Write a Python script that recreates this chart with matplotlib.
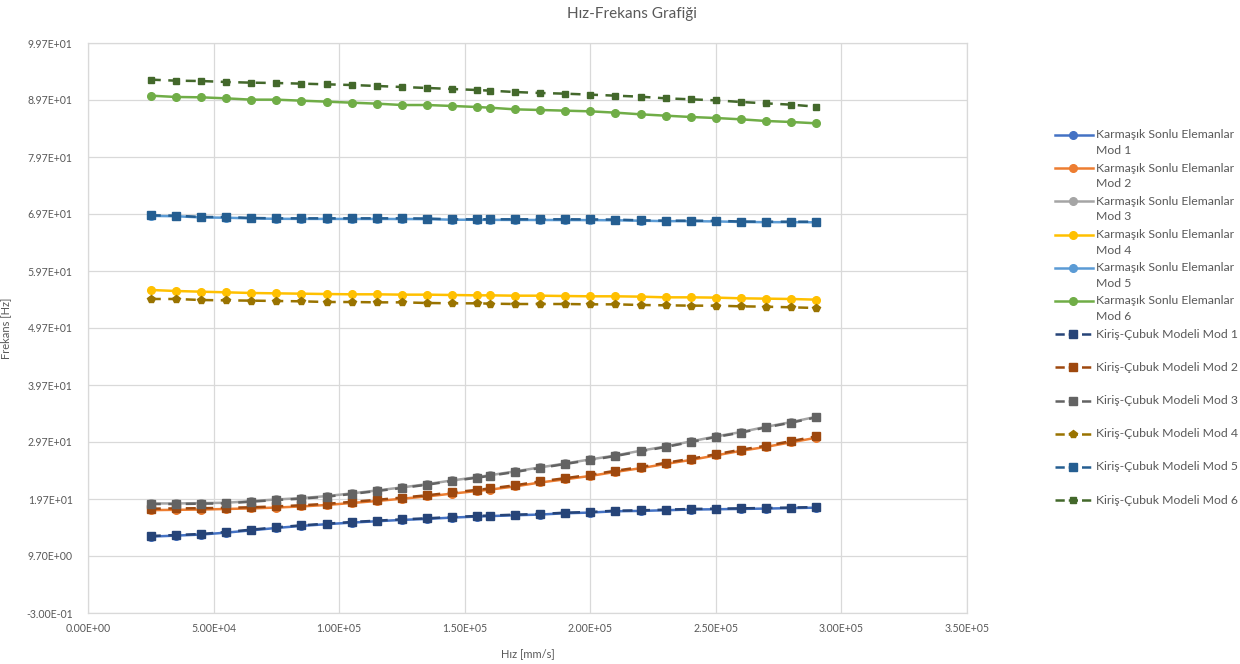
import matplotlib.pyplot as plt
from matplotlib.lines import Line2D
from matplotlib.ticker import FuncFormatter
import numpy as np

plt.rcParams['font.family'] = ['Lato', 'DejaVu Sans']

# Hız [mm/s]
hiz = [25000, 35000, 45000, 55000, 65000, 75000, 85000, 95000, 105000, 115000,
       125000, 135000, 145000, 155000, 160000, 170000, 180000, 190000, 200000,
       210000, 220000, 230000, 240000, 250000, 260000, 270000, 280000, 290000]

# Karmaşık Sonlu Elemanlar
kse_mod1 = [13.10, 13.28, 13.46, 13.80, 14.20, 14.62, 14.98, 15.28, 15.56, 15.80, 16.03, 16.21, 16.44, 16.62,
            16.70, 16.85, 16.97, 17.20, 17.32, 17.55, 17.61, 17.73, 17.85, 17.90, 17.96, 18.02, 18.10, 18.18]
kse_mod2 = [17.75, 17.80, 17.85, 17.95, 18.05, 18.20, 18.40, 18.65, 19.00, 19.35, 19.75, 20.15, 20.65, 21.10,
            21.35, 21.90, 22.60, 23.15, 23.75, 24.45, 25.10, 25.85, 26.55, 27.35, 28.15, 28.85, 29.65, 30.45]
kse_mod3 = [18.92, 18.92, 18.98, 19.04, 19.33, 19.62, 19.86, 20.21, 20.68, 21.20, 21.73, 22.31, 22.96, 23.54,
            23.87, 24.54, 25.24, 25.94, 26.64, 27.34, 28.16, 28.92, 29.80, 30.68, 31.44, 32.37, 33.19, 34.13]
kse_mod4 = [56.37, 56.19, 56.07, 55.96, 55.84, 55.78, 55.72, 55.66, 55.61, 55.61, 55.55, 55.55, 55.49, 55.43,
            55.43, 55.37, 55.37, 55.31, 55.26, 55.26, 55.20, 55.08, 55.08, 55.03, 54.91, 54.85, 54.79, 54.67]
kse_mod5 = [69.37, 69.31, 69.10, 69.05, 68.92, 68.86, 68.84, 68.84, 68.83, 68.83, 68.82, 68.80, 68.70, 68.68,
            68.67, 68.66, 68.65, 68.64, 68.63, 68.60, 68.52, 68.45, 68.43, 68.40, 68.30, 68.27, 68.26, 68.25]
kse_mod6 = [90.46, 90.23, 90.17, 89.99, 89.76, 89.76, 89.58, 89.41, 89.23, 89.06, 88.82, 88.82, 88.65, 88.47,
            88.35, 88.06, 87.95, 87.83, 87.71, 87.48, 87.19, 86.95, 86.72, 86.54, 86.31, 86.02, 85.84, 85.61]

# Kiriş-Çubuk Modeli
kcm_mod1 = [13.21, 13.38, 13.56, 13.91, 14.32, 14.73, 15.08, 15.37, 15.66, 15.90, 16.13, 16.31, 16.54, 16.72,
            16.80, 16.95, 17.07, 17.30, 17.42, 17.65, 17.71, 17.83, 17.95, 18.00, 18.06, 18.12, 18.20, 18.28]
kcm_mod2 = [18.00, 18.05, 18.08, 18.15, 18.25, 18.40, 18.60, 18.85, 19.20, 19.55, 19.95, 20.35, 20.85, 21.30,
            21.55, 22.10, 22.80, 23.35, 23.95, 24.65, 25.30, 26.05, 26.75, 27.55, 28.35, 29.05, 29.85, 30.70]
kcm_mod3 = [18.82, 18.82, 18.88, 18.94, 19.23, 19.52, 19.76, 20.11, 20.58, 21.10, 21.63, 22.21, 22.86, 23.44,
            23.77, 24.44, 25.14, 25.84, 26.54, 27.24, 28.06, 28.82, 29.70, 30.58, 31.34, 32.27, 33.09, 34.03]
kcm_mod4 = [54.79, 54.79, 54.61, 54.55, 54.50, 54.44, 54.38, 54.26, 54.26, 54.20, 54.20, 54.09, 54.03, 54.03,
            53.97, 53.91, 53.91, 53.91, 53.85, 53.85, 53.74, 53.68, 53.62, 53.62, 53.50, 53.44, 53.33, 53.21]
kcm_mod5 = [69.47, 69.41, 69.17, 69.17, 69.00, 68.94, 68.94, 68.94, 68.94, 68.94, 68.94, 68.90, 68.77, 68.77,
            68.77, 68.77, 68.77, 68.77, 68.75, 68.72, 68.59, 68.53, 68.53, 68.50, 68.38, 68.35, 68.35, 68.35]
kcm_mod6 = [93.27, 93.09, 93.03, 92.86, 92.74, 92.68, 92.57, 92.45, 92.33, 92.16, 91.98, 91.81, 91.63, 91.45,
            91.34, 91.10, 90.93, 90.81, 90.64, 90.46, 90.28, 89.99, 89.82, 89.64, 89.35, 89.11, 88.88, 88.53]

kse_series = [kse_mod1, kse_mod2, kse_mod3, kse_mod4, kse_mod5, kse_mod6]
kcm_series = [kcm_mod1, kcm_mod2, kcm_mod3, kcm_mod4, kcm_mod5, kcm_mod6]
kse_colors = ['#4472C4', '#ED7D31', '#A5A5A5', '#FFC000', '#5B9BD5', '#70AD47']
kcm_colors = ['#264478', '#9E480E', '#636363', '#997300', '#255E91', '#43682B']
kcm_markers = ['s', 's', 's', 'p', 's', 's']
kcm_msize = [5.5, 5.5, 5.5, 6, 5.5, 4.5]

text_gray = '#595959'
grid_gray = '#D9D9D9'

fig = plt.figure(figsize=(12.4, 6.64), dpi=100)
ax = fig.add_axes([88 / 1240, 1 - 613 / 664, (967 - 88) / 1240, (613 - 43) / 664])

handles = []
labels = []
for i, (vals, col) in enumerate(zip(kse_series, kse_colors)):
    ln, = ax.plot(hiz, vals, color=col, lw=1.8, marker='o', ms=5.5, zorder=3)
    handles.append(ln)
    labels.append(f"Karmaşık Sonlu Elemanlar\nMod {i + 1}")
for i, (vals, col) in enumerate(zip(kcm_series, kcm_colors)):
    ln, = ax.plot(hiz, vals, color=col, lw=1.8, ls=(0, (4, 3)),
                  marker=kcm_markers[i], ms=kcm_msize[i], zorder=4)
    handles.append(ln)
    labels.append(f"Kiriş-Çubuk Modeli Mod {i + 1}")

ax.set_xlim(0, 350000)
ax.set_ylim(-0.3, 99.7)
ax.set_xticks(np.arange(0, 350001, 50000))
ax.set_yticks(np.arange(-0.3, 100, 10))
sci = FuncFormatter(lambda v, _: f"{v:.2E}")
ax.xaxis.set_major_formatter(sci)
ax.yaxis.set_major_formatter(sci)
ax.tick_params(length=0, labelsize=7.6, colors=text_gray)
ax.tick_params(axis='y', pad=11)
ax.tick_params(axis='x', pad=7)
ax.grid(True, color=grid_gray, lw=0.9)
ax.set_axisbelow(True)
for sp in ax.spines.values():
    sp.set_color(grid_gray)
    sp.set_linewidth(0.9)

ax.set_ylabel("Frekans [Hz]", fontsize=8, color=text_gray)
ax.yaxis.set_label_coords(-0.087, 0.5)
ax.set_xlabel("Hız [mm/s]", fontsize=8, color=text_gray)
ax.xaxis.set_label_coords(0.5, -0.062)

fig.text(632 / 1240, 1 - 14 / 664, "Hız-Frekans Grafiği", ha='center', va='center',
         fontsize=11, color=text_gray)

# legend drawn by hand so every entry sits on the same 33 px step
W, H = 1240, 664
for i, (h, lbl) in enumerate(zip(handles, labels)):
    yp = 135 + 33.2 * i
    yf = 1 - yp / H
    fig.add_artist(Line2D([1055 / W, 1093 / W], [yf, yf], transform=fig.transFigure,
                          color=h.get_color(), lw=1.8, ls=h.get_linestyle()))
    fig.add_artist(Line2D([1073 / W], [yf], transform=fig.transFigure,
                          color=h.get_color(), marker=h.get_marker(), ms=h.get_markersize(), ls='none'))
    lines = lbl.split("\n")
    fig.text(1096 / W, yf, lines[0], ha='left', va='center', fontsize=8.8, color=text_gray)
    if len(lines) > 1:
        fig.text(1096 / W, 1 - (yp + 15.5) / H, lines[1], ha='left', va='center',
                 fontsize=8.8, color=text_gray)

fig.savefig("out.png", dpi=100)
